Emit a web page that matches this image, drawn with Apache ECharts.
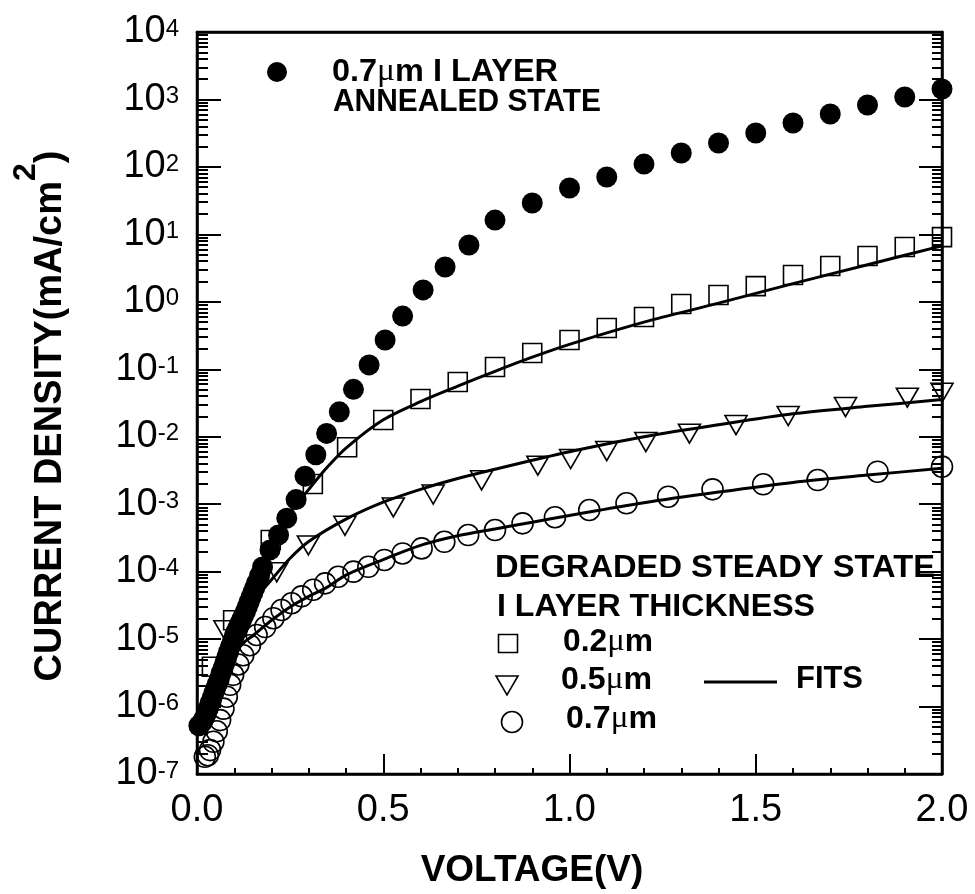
<!DOCTYPE html>
<html>
<head>
<meta charset="utf-8">
<script src="https://cdn.jsdelivr.net/npm/echarts@6/dist/echarts.min.js"></script>
<style>
  html, body { margin: 0; padding: 0; background: #fff; }
  #chart { width: 975px; height: 894px; }
</style>
</head>
<body>
<div id="chart"></div>
<script>
// J-V curves: [voltage (V), current density (mA/cm^2)]

// 0.7 um i-layer, annealed state (filled circles)
const annealed07 = [
  [0.005, 5.2e-7], [0.01, 5.5e-7], [0.015, 6.0e-7], [0.02, 6.8e-7], [0.025, 7.9e-7],
  [0.03, 9.3e-7], [0.035, 1.12e-6], [0.04, 1.32e-6], [0.045, 1.58e-6], [0.05, 1.86e-6],
  [0.055, 2.19e-6], [0.06, 2.57e-6], [0.065, 3.16e-6], [0.07, 3.7e-6], [0.075, 4.5e-6],
  [0.08, 5.4e-6], [0.085, 6.5e-6], [0.09, 7.8e-6], [0.095, 9.3e-6], [0.1, 1.1e-5],
  [0.105, 1.29e-5], [0.11, 1.48e-5], [0.115, 1.7e-5], [0.12, 1.95e-5], [0.125, 2.24e-5],
  [0.13, 2.57e-5], [0.135, 3.0e-5], [0.14, 3.55e-5], [0.145, 4.2e-5], [0.15, 4.9e-5],
  [0.155, 5.75e-5], [0.16, 6.8e-5], [0.168, 8.7e-5], [0.176, 1.17e-4], [0.196, 2.1e-4],
  [0.219, 3.5e-4], [0.241, 6.2e-4], [0.266, 1.17e-3], [0.29, 2.6e-3], [0.319, 5.4e-3],
  [0.348, 0.0112], [0.382, 0.0234], [0.42, 0.0504], [0.462, 0.116], [0.505, 0.272],
  [0.552, 0.615], [0.607, 1.5], [0.666, 3.28], [0.73, 6.95], [0.8, 16.3], [0.9, 29.2],
  [1.0, 48.6], [1.1, 70.8], [1.2, 110], [1.3, 161], [1.4, 226], [1.5, 318], [1.6, 448],
  [1.7, 608], [1.8, 828], [1.9, 1087], [2.0, 1430]
];

// Degraded steady state, 0.2 um (open squares)
const degraded02 = [
  [0.04, 3.9e-6], [0.097, 1.9e-5], [0.198, 2.94e-4], [0.311, 1.99e-3], [0.403, 7.0e-3],
  [0.5, 0.0177], [0.6, 0.0362], [0.7, 0.0648], [0.8, 0.108], [0.9, 0.174], [1.0, 0.272],
  [1.1, 0.41], [1.2, 0.595], [1.3, 0.93], [1.4, 1.26], [1.5, 1.71], [1.6, 2.5], [1.7, 3.4],
  [1.8, 4.77], [1.9, 6.5], [2.0, 9.1]
];

// Degraded steady state, 0.5 um (open down-triangles)
const degraded05 = [
  [0.075, 1.35e-5], [0.214, 9.8e-5], [0.299, 2.45e-4], [0.397, 4.79e-4], [0.527, 8.95e-4],
  [0.634, 1.39e-3], [0.764, 2.26e-3], [0.915, 3.72e-3], [1.003, 4.67e-3], [1.1, 6.13e-3],
  [1.205, 8.34e-3], [1.322, 0.0111], [1.447, 0.0149], [1.587, 0.0203], [1.741, 0.0275],
  [1.907, 0.0379], [2.0, 0.0449]
];

// Degraded steady state, 0.7 um (open circles)
const degraded07 = [
  [0.021, 1.8e-7], [0.029, 1.9e-7], [0.035, 2.26e-7], [0.044, 3.0e-7], [0.053, 4.3e-7],
  [0.062, 6.3e-7], [0.071, 9.3e-7], [0.08, 1.4e-6], [0.089, 2.1e-6], [0.097, 2.95e-6],
  [0.111, 4.2e-6], [0.124, 5.75e-6], [0.142, 8.1e-6], [0.16, 1.15e-5], [0.183, 1.51e-5],
  [0.205, 2.04e-5], [0.227, 2.7e-5], [0.254, 3.4e-5], [0.281, 4.3e-5], [0.312, 5.4e-5],
  [0.344, 6.7e-5], [0.379, 8.4e-5], [0.42, 1.0e-4], [0.46, 1.18e-4], [0.503, 1.49e-4],
  [0.552, 1.86e-4], [0.603, 2.21e-4], [0.664, 2.77e-4], [0.728, 3.49e-4], [0.8, 4.14e-4],
  [0.874, 5.2e-4], [0.961, 6.4e-4], [1.053, 8.2e-4], [1.153, 1.03e-3], [1.265, 1.29e-3],
  [1.384, 1.66e-3], [1.52, 1.97e-3], [1.666, 2.28e-3], [1.827, 3.03e-3], [2.0, 3.6e-3]
];

// Model fits (solid lines)
const fit02 = [
  [0.03, 1.0e-6], [0.05, 2.5e-6], [0.1, 1.4e-5], [0.15, 7.1e-5], [0.2, 2.8e-4],
  [0.25, 7.4e-4], [0.3, 1.66e-3], [0.35, 3.55e-3], [0.4, 6.8e-3], [0.5, 0.0178],
  [0.6, 0.0331], [0.7, 0.0562], [0.8, 0.0933], [0.9, 0.151], [1.0, 0.234], [1.2, 0.5],
  [1.4, 0.955], [1.6, 1.86], [1.8, 3.55], [2.0, 6.76]
];
const fit05 = [
  [0.05, 1.78e-6], [0.1, 1.0e-5], [0.15, 3.55e-5], [0.2, 7.6e-5], [0.25, 1.58e-4],
  [0.3, 2.8e-4], [0.4, 6.0e-4], [0.5, 1.07e-3], [0.6, 1.66e-3], [0.7, 2.4e-3],
  [0.8, 3.3e-3], [0.9, 4.47e-3], [1.0, 6.0e-3], [1.2, 0.01], [1.4, 0.0151],
  [1.6, 0.0219], [1.8, 0.0282], [2.0, 0.0355]
];
const fit07 = [
  [0.11, 7.1e-6], [0.13, 9.3e-6], [0.15, 1.12e-5], [0.2, 1.9e-5], [0.25, 3.0e-5],
  [0.3, 4.3e-5], [0.35, 5.9e-5], [0.4, 8.9e-5], [0.5, 1.51e-4], [0.6, 2.45e-4],
  [0.7, 3.4e-4], [0.8, 4.3e-4], [0.9, 5.4e-4], [1.0, 6.8e-4], [1.2, 1.05e-3],
  [1.4, 1.51e-3], [1.6, 2.1e-3], [1.8, 2.7e-3], [2.0, 3.4e-3]
];

// Axis tick labels
const xTickLabels = ['0.0', '0.5', '1.0', '1.5', '2.0'];
const yTickBase = '10';

const FONT = '"Liberation Sans", Arial, Helvetica, sans-serif';
const SERIF = '"Liberation Serif", "DejaVu Serif", serif';

// Annotation block: rich text pieces placed by left x, middle y and target width
const measureCtx = document.createElement('canvas').getContext('2d');
const richStyles = {
  b: { fontSize: 31, fontWeight: 'bold', fontFamily: FONT, fill: '#000', color: '#000' },
  u: { fontSize: 32, fontWeight: 'normal', fontFamily: SERIF, fill: '#000', color: '#000' }
};
function partWidth(style, s) {
  measureCtx.font = style.fontWeight + ' ' + style.fontSize + 'px ' + style.fontFamily;
  return measureCtx.measureText(s).width;
}
function annotation(parts, x, y, targetWidth) {
  let w = 0;
  let txt = '';
  parts.forEach(([k, s]) => { w += partWidth(richStyles[k], s); txt += '{' + k + '|' + s + '}'; });
  return {
    type: 'text', x: x, y: y, scaleX: targetWidth / w, scaleY: 1, silent: true,
    style: { text: txt, rich: richStyles, fill: '#000', align: 'left', verticalAlign: 'middle',
             textAlign: 'left', textVerticalAlign: 'middle' }
  };
}

const graphics = [
  // top-left key
  { type: 'circle', shape: { cx: 277, cy: 72, r: 10 }, style: { fill: '#000' }, silent: true },
  annotation([['b', '0.7'], ['u', 'μ'], ['b', 'm I LAYER']], 332, 72, 226),
  annotation([['b', 'ANNEALED STATE']], 333, 102, 268),
  // lower-right key
  annotation([['b', 'DEGRADED STEADY STATE']], 495, 568, 440),
  annotation([['b', 'I LAYER THICKNESS']], 497, 607, 318),
  { type: 'rect', shape: { x: 498.5, y: 634.5, width: 19, height: 18 },
    style: { fill: 'none', stroke: '#000', lineWidth: 1.6 }, silent: true },
  annotation([['b', '0.2'], ['u', 'μ'], ['b', 'm']], 563, 642, 90),
  { type: 'polygon', shape: { points: [[496, 676], [518, 676], [507, 695]] },
    style: { fill: 'none', stroke: '#000', lineWidth: 1.6 }, silent: true },
  annotation([['b', '0.5'], ['u', 'μ'], ['b', 'm']], 561, 680, 91),
  { type: 'circle', shape: { cx: 512, cy: 722, r: 10.5 },
    style: { fill: 'none', stroke: '#000', lineWidth: 1.6 }, silent: true },
  annotation([['b', '0.7'], ['u', 'μ'], ['b', 'm']], 566, 719, 91),
  { type: 'line', shape: { x1: 704, y1: 682, x2: 777, y2: 682 },
    style: { stroke: '#000', lineWidth: 3 }, silent: true },
  annotation([['b', 'FITS']], 796, 679, 67),
  // axis titles
  {
    type: 'text', x: 532, y: 871, silent: true,
    style: { text: 'VOLTAGE(V)', fontSize: 37, fontWeight: 'bold', fontFamily: FONT, fill: '#000',
             align: 'center', verticalAlign: 'middle', textAlign: 'center', textVerticalAlign: 'middle' }
  },
  {
    type: 'text', x: 51, y: 416, rotation: Math.PI / 2, silent: true,
    style: {
      text: '{m|CURRENT DENSITY(mA/cm}{s|2}{m|)}',
      rich: {
        m: { fontSize: 38, fontWeight: 'bold', fontFamily: FONT, lineHeight: 82, fill: '#000', color: '#000' },
        s: { fontSize: 32, fontWeight: 'bold', fontFamily: FONT, lineHeight: 32, verticalAlign: 'top', fill: '#000', color: '#000' }
      },
      fill: '#000', align: 'center', verticalAlign: 'middle', textAlign: 'center', textVerticalAlign: 'middle'
    }
  }
];

const openMarker = { color: 'rgba(0,0,0,0)', borderColor: '#000', borderWidth: 1.6, opacity: 1 };
const filledMarker = { color: '#000', opacity: 1 };
const fitLine = { color: '#000', width: 3 };
const axisBlack = { color: '#000', width: 2.5 };
const tickStyle = { color: '#000', width: 2 };

const yLabelRich = {
  b: { fontSize: 38, lineHeight: 30, fontFamily: FONT, color: '#000' },
  s: { fontSize: 24, lineHeight: 24, fontFamily: FONT, color: '#000', verticalAlign: 'top' }
};

const option = {
  animation: false,
  backgroundColor: '#fff',
  grid: { left: 197, right: 33, top: 32, bottom: 120, show: true, borderColor: '#000', borderWidth: 2.5,
          backgroundColor: 'rgba(0,0,0,0)' },
  xAxis: [
    {
      type: 'value', min: 0, max: 2, interval: 0.5,
      axisLine: { show: true, onZero: false, lineStyle: axisBlack },
      axisTick: { show: true, inside: true, length: 20, lineStyle: tickStyle },
      minorTick: { show: true, splitNumber: 5, length: 6, lineStyle: tickStyle },
      splitLine: { show: false },
      axisLabel: {
        margin: 18, fontSize: 38, fontFamily: FONT, color: '#000', lineHeight: 38,
        formatter: v => xTickLabels[Math.round(v / 0.5)]
      }
    },
    {
      type: 'value', position: 'top', min: 0, max: 2,
      axisLine: { show: true, onZero: false, lineStyle: axisBlack },
      axisTick: { show: false }, axisLabel: { show: false }, splitLine: { show: false }
    }
  ],
  yAxis: [
    {
      type: 'log', logBase: 10, min: 1e-7, max: 1e4, interval: 1,
      axisLine: { show: true, onZero: false, lineStyle: axisBlack },
      axisTick: { show: true, inside: true, length: 24, lineStyle: tickStyle },
      minorTick: { show: true, splitNumber: 9, length: 11, lineStyle: tickStyle },
      splitLine: { show: false },
      axisLabel: {
        margin: 18, rich: yLabelRich,
        formatter: v => '{b|' + yTickBase + '}{s|' + Math.round(Math.log10(v)) + '}'
      }
    },
    {
      type: 'log', logBase: 10, min: 1e-7, max: 1e4, interval: 1, position: 'right',
      axisLine: { show: true, onZero: false, lineStyle: axisBlack },
      axisTick: { show: true, inside: true, length: 23, lineStyle: tickStyle },
      minorTick: { show: true, splitNumber: 9, length: 10, lineStyle: tickStyle },
      splitLine: { show: false }, axisLabel: { show: false }
    }
  ],
  series: [
    { name: 'fit 0.2', type: 'line', data: fit02, symbol: 'none', smooth: 0.3, lineStyle: fitLine, z: 3 },
    { name: 'fit 0.5', type: 'line', data: fit05, symbol: 'none', smooth: 0.3, lineStyle: fitLine, z: 3 },
    { name: 'fit 0.7', type: 'line', data: fit07, symbol: 'none', smooth: 0.3, lineStyle: fitLine, z: 3 },
    { name: '0.2um', type: 'scatter', data: degraded02, symbol: 'rect', symbolSize: 19, itemStyle: openMarker, z: 2 },
    { name: '0.5um', type: 'scatter', data: degraded05, symbol: 'triangle', symbolRotate: 180, symbolSize: [22, 19], itemStyle: openMarker, z: 2 },
    { name: '0.7um', type: 'scatter', data: degraded07, symbol: 'circle', symbolSize: 21, itemStyle: openMarker, z: 2 },
    { name: 'annealed 0.7um', type: 'scatter', data: annealed07, symbol: 'circle', symbolSize: 21, itemStyle: filledMarker, z: 4 }
  ],
  graphic: graphics
};

const chart = echarts.init(document.getElementById('chart'), null, { renderer: 'canvas' });
chart.setOption(option);
</script>
</body>
</html>
